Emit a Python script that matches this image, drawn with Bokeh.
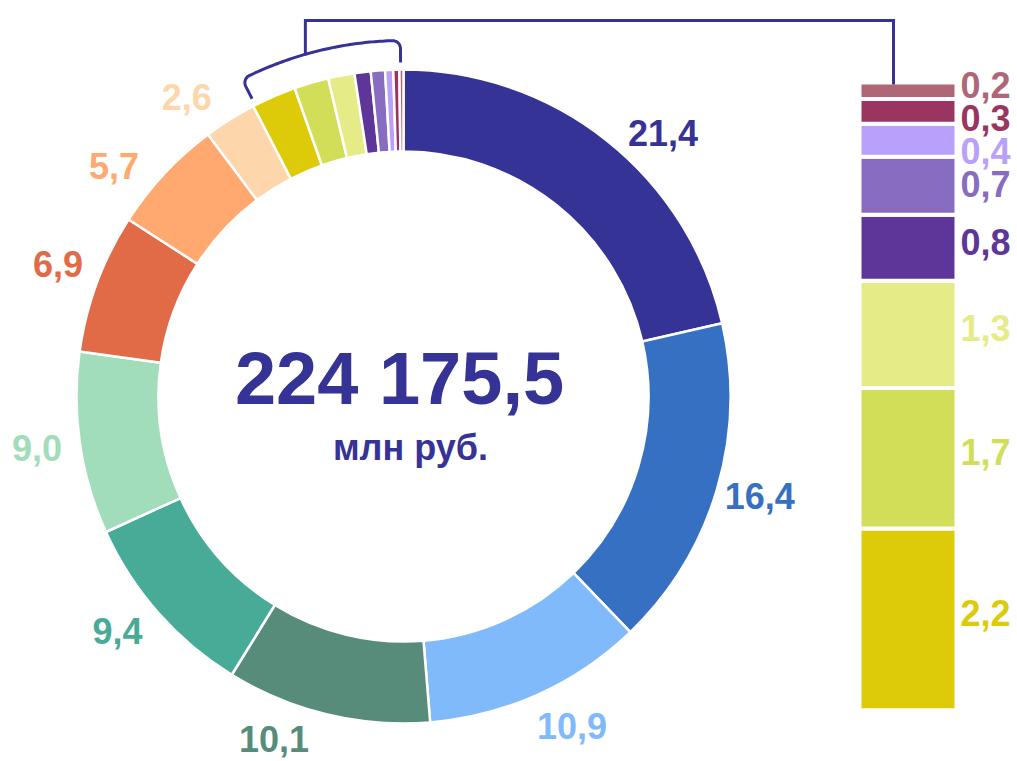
import numpy as np
from bokeh.plotting import figure
from bokeh.models import Range1d, ColumnDataSource
from bokeh.embed import file_html
from bokeh.resources import INLINE
from bokeh.core.properties import value

# ---------------- data ----------------
ring_values = [21.4, 16.4, 10.9, 10.1, 9.4, 9.0, 6.9, 5.7, 2.6, 2.2, 1.7, 1.3, 0.8, 0.7, 0.4, 0.3, 0.2]
ring_labels = ["21,4", "16,4", "10,9", "10,1", "9,4", "9,0", "6,9", "5,7", "2,6",
               "2,2", "1,7", "1,3", "0,8", "0,7", "0,4", "0,3", "0,2"]
ring_colors = ["#363396", "#3570C2", "#80BAFB", "#568C79", "#47AB98", "#A2DDBB",
               "#E26B47", "#FFA86F", "#FED6AB", "#DDCB0A", "#D2DE58", "#E5EB87",
               "#5E369A", "#876CC1", "#B9A1FB", "#9A3561", "#AF6677"]
n_ring_labels = 9          # the first 9 slices are labelled on the ring; the rest in the bar
total_text = "224 175,5"
unit_text = "млн руб."

# ---------------- layout / style ----------------
FONT = value("Liberation Sans")
PAGE_H = 761
Y_MIN = 2
CX, CY = 403, PAGE_H - 396
R_OUT, R_IN = 327, 245
LABEL_R = 370
LABEL_FS = 36
label_nudge_deg = [-6.0, 0.9, 2.8, -7.0, -2.0, -0.3, -0.6, 4.5, 3.8]
BAR_L, BAR_R = 859, 956
BAR_TOP = PAGE_H - 82
BAR_K = 82.6               # px per percentage point in the detail bar
BRACKET_R = 356
NAVY = "#363396"

p = figure(width=1015, height=759, x_range=Range1d(0, 1015), y_range=Range1d(Y_MIN, 761),
           x_axis_type=None, y_axis_type=None, toolbar_location=None,
           output_backend="svg", min_border=0)
p.outline_line_color = None
p.grid.visible = False
p.background_fill_color = "white"
p.border_fill_color = "white"

vals = np.array(ring_values)
cum = np.concatenate([[0], np.cumsum(vals)[:-1]])
total = vals.sum()
a_beg = 90 - cum / total * 360
a_fin = 90 - (cum + vals) / total * 360

src = ColumnDataSource(dict(start=np.radians(a_fin), end=np.radians(a_beg), color=ring_colors))
p.annular_wedge(x=CX, y=CY, inner_radius=R_IN, outer_radius=R_OUT,
                start_angle="start", end_angle="end", fill_color="color",
                line_color="white", line_width=2.5, source=src)

# ring labels
mid = (a_beg + a_fin) / 2
lx, ly = [], []
for i in range(n_ring_labels):
    a = np.radians(mid[i] + label_nudge_deg[i])
    lx.append(CX + LABEL_R * np.cos(a))
    ly.append(max(CY + LABEL_R * np.sin(a), Y_MIN + LABEL_FS / 2 + 3))
p.text(x=lx, y=ly, text=ring_labels[:n_ring_labels], text_color=ring_colors[:n_ring_labels],
       text_font=FONT, text_font_style="bold", text_font_size=f"{LABEL_FS}px",
       text_align="center", text_baseline="middle")

# centre text
p.text(x=[CX - 4], y=[PAGE_H - 378], text=[total_text], text_color=NAVY, text_font=FONT,
       text_font_style="bold", text_font_size="74px", text_align="center",
       text_baseline="middle")
p.text(x=[CX + 7], y=[PAGE_H - 447], text=[unit_text], text_color=NAVY, text_font=FONT,
       text_font_style="bold", text_font_size="36px", text_align="center",
       text_baseline="middle")

# detail stacked bar (small slices): stacked from the bottom in ring order
det_vals = vals[n_ring_labels:]
det_labels = ring_labels[n_ring_labels:]
det_colors = ring_colors[n_ring_labels:]
det_total = det_vals.sum()
bottom0 = BAR_TOP - det_total * BAR_K
bots = bottom0 + np.concatenate([[0], np.cumsum(det_vals)[:-1]]) * BAR_K
tops = bots + det_vals * BAR_K
p.quad(left=BAR_L, right=BAR_R, bottom=bots, top=tops, fill_color=det_colors,
       line_color="white", line_width=4)

# bar labels with simple collision avoidance (top -> bottom)
mids = (bots + tops) / 2 + 6
order = list(range(len(det_vals)))[::-1]  # top first
ys = {}
prev = None
for j in order:
    y = mids[j]
    if prev is not None and prev - y < 33:
        y = prev - 33
    ys[j] = y
    prev = y
p.text(x=[BAR_R + 4] * len(det_vals), y=[ys[j] for j in range(len(det_vals))],
       text=det_labels, text_color=det_colors, text_font=FONT, text_font_style="bold",
       text_font_size=f"{LABEL_FS}px", text_align="left", text_baseline="middle")

# bracket around the small slices
a1 = (a_beg[n_ring_labels] % 360) - 0.4   # left end (larger angle)
a0 = 90 + 0.5                              # right end
fr = 8.0
dth = np.degrees(fr / BRACKET_R)
bx, by = [], []
def pol(r, adeg):
    a = np.radians(adeg)
    return CX + r * np.cos(a), CY + r * np.sin(a)
for r in np.linspace(BRACKET_R - 22, BRACKET_R - fr, 4):
    x, y = pol(r, a1); bx.append(x); by.append(y)
for t in np.linspace(0, 1, 8)[1:]:
    r = BRACKET_R - fr + fr * np.sin(t * np.pi / 2)
    a = a1 - dth * (1 - np.cos(t * np.pi / 2))
    x, y = pol(r, a); bx.append(x); by.append(y)
for a in np.linspace(a1 - dth, a0 + dth, 60)[1:-1]:
    x, y = pol(BRACKET_R, a); bx.append(x); by.append(y)
for t in np.linspace(1, 0, 8)[:-1]:
    r = BRACKET_R - fr + fr * np.sin(t * np.pi / 2)
    a = a0 + dth * (1 - np.cos(t * np.pi / 2))
    x, y = pol(r, a); bx.append(x); by.append(y)
for r in np.linspace(BRACKET_R - fr, BRACKET_R - 22, 4):
    x, y = pol(r, a0); bx.append(x); by.append(y)
p.line(bx, by, line_color=NAVY, line_width=3, line_join="round")

# connector from bracket to the bar
cx0, cy0 = pol(BRACKET_R, 106)
conn_top = PAGE_H - 20
conn_x = BAR_L + 34
p.line([cx0, cx0, conn_x, conn_x], [cy0, conn_top, conn_top, BAR_TOP - 2],
       line_color=NAVY, line_width=3, line_join="miter")

open("out.html", "w").write(file_html(p, INLINE))
